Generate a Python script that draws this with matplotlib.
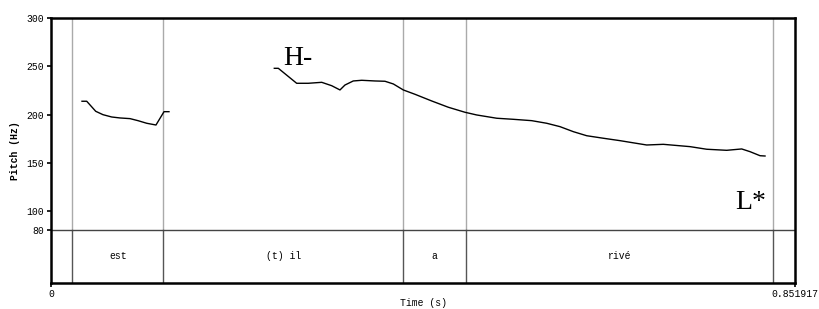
import matplotlib
matplotlib.use("Agg")
import matplotlib.pyplot as plt

# Pitch contour segments (time s, pitch Hz)
seg1_t = [0.0355, 0.0409, 0.0512, 0.0595, 0.0695, 0.0790, 0.0905, 0.0996, 0.1096, 0.1202, 0.1294, 0.1351]
seg1_f = [213.8, 213.8, 203.4, 199.9, 197.5, 196.5, 195.8, 193.7, 191.0, 189.2, 203.0, 203.0]

seg2_t = [0.2557, 0.2603, 0.2813, 0.2946, 0.3100, 0.3214, 0.3309, 0.3366, 0.3461, 0.3558,
          0.3710, 0.3824, 0.3920, 0.4034, 0.4168, 0.4359, 0.4549, 0.4740, 0.4874, 0.5104,
          0.5294, 0.5504, 0.5676, 0.5828, 0.5981, 0.6134, 0.6324, 0.6515, 0.6630, 0.6821,
          0.7011, 0.7317, 0.7508, 0.7737, 0.7909, 0.8004, 0.8119, 0.8176]
seg2_f = [247.9, 247.9, 232.4, 232.4, 233.4, 229.9, 225.5, 230.6, 234.8, 235.5,
          234.8, 234.5, 231.7, 225.5, 221.0, 214.1, 207.6, 202.4, 199.6, 196.2,
          195.1, 193.7, 191.0, 187.5, 182.3, 178.1, 175.5, 173.0, 171.3, 168.5,
          169.2, 166.8, 164.1, 163.0, 164.4, 161.6, 157.4, 157.1]

# TextGrid interval boundaries and labels
boundaries = [0.024, 0.1288, 0.403, 0.475, 0.8267]
labels = ["est", "(t) il", "a", "rivé"]

# Tone annotations
tones = ["H-", "L*"]
tone_t = [0.2657, 0.7832]
tone_f = [251.3, 102.3]

t_max = 0.851917
y_ticks = [80, 100, 150, 200, 250, 300]
f_min, f_max = 25.6, 300
tier_top = 80

mono = "Liberation Mono"
serif = "Liberation Serif"

fig = plt.figure(figsize=(8.19, 3.09), dpi=100)
ax = fig.add_axes([51/819, 26/309, 744/819, 265/309])
ax.set_xlim(0, t_max)
ax.set_ylim(f_min, f_max)

# boundaries
for b in boundaries:
    ax.plot([b, b], [tier_top, f_max], color="#aaaaaa", lw=1.0, zorder=1)
    ax.plot([b, b], [f_min, tier_top], color="#555555", lw=1.0, zorder=1)
ax.axhline(tier_top, color="#444444", lw=1.0, zorder=1)

# interval labels
for i, lab in enumerate(labels):
    cx = (boundaries[i] + boundaries[i + 1]) / 2
    ax.text(cx, 54, lab, ha="center", va="center", fontsize=7, family=mono)

# pitch contour
ax.plot(seg1_t, seg1_f, color="black", lw=1.0, zorder=3)
ax.plot(seg2_t, seg2_f, color="black", lw=1.0, zorder=3)

for txt, tt, ff in zip(tones, tone_t, tone_f):
    ax.text(tt, ff, txt, ha="left", va="baseline", fontsize=20, family=serif)

for s in ax.spines.values():
    s.set_linewidth(1.8)

ax.set_yticks(y_ticks)
ax.set_yticklabels([str(v) for v in y_ticks], family=mono, fontsize=7)
ax.set_xticks([0, t_max])
ax.set_xticklabels(["0", "0.851917"], family=mono, fontsize=7)
ax.tick_params(axis="both", direction="out", length=3, width=1.2, pad=2)
ax.tick_params(axis="x", pad=1.5)
fig.text(15/819, 1 - 151/309, "Pitch (Hz)", ha="center", va="center", rotation=90,
         family=mono, fontsize=7, fontweight="bold")
fig.text(423/819, 1 - 303/309, "Time (s)", ha="center", va="center",
         family=mono, fontsize=7)

fig.savefig("out.png", dpi=100)
